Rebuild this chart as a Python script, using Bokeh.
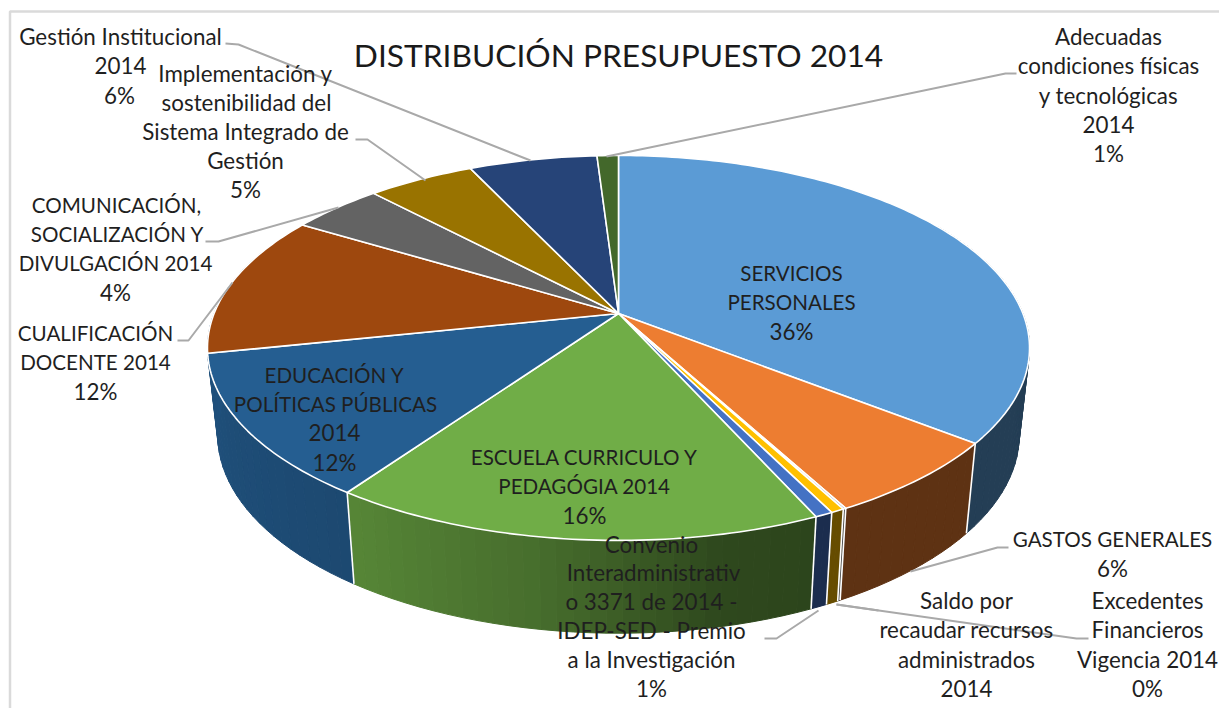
import math
import numpy as np
from bokeh.plotting import figure
from bokeh.models import Range1d
from bokeh.core.properties import value
from bokeh.embed import file_html
from bokeh.resources import INLINE

# ---- data: slices clockwise from 12 o'clock (percent)
categories = ["SERVICIOS PERSONALES", "GASTOS GENERALES", "Saldo por recaudar recursos administrados 2014",
              "Excedentes Financieros Vigencia 2014", "Convenio Interadministrativo 3371 de 2014",
              "ESCUELA CURRICULO Y PEDAGOGIA 2014", "EDUCACION Y POLITICAS PUBLICAS 2014", "CUALIFICACION DOCENTE 2014",
              "COMUNICACION 2014", "Implementacion Sistema Integrado de Gestion", "Gestion Institucional 2014",
              "Adecuadas condiciones 2014"]
values = [35.65, 6.5, 0.1, 0.45, 0.6, 16.4, 12.0, 12.0, 4.3, 5.0, 6.0, 1.0]
colors = ["#5B9BD5", "#ED7D31", "#A5A5A5", "#FFC000", "#4472C4", "#70AD47",
          "#255E91", "#9E480E", "#636363", "#997300", "#264478", "#43682B"]

title = "DISTRIBUCIÓN PRESUPUESTO 2014"
label_lines = [
    ("Gestión Institucional", 120, 36), ("2014", 120, 65), ("6%", 119, 95),
    ("Implementación y", 245, 73), ("sostenibilidad del", 246, 102), ("Sistema Integrado de", 245, 131),
    ("Gestión", 245, 160), ("5%", 245, 189),
    ("COMUNICACIÓN,", 116, 204), ("SOCIALIZACIÓN Y", 117, 233), ("DIVULGACIÓN 2014", 115, 262), ("4%", 115, 292),
    ("CUALIFICACIÓN", 95, 332), ("DOCENTE 2014", 95, 361), ("12%", 95, 391),
    ("EDUCACIÓN Y", 334, 374), ("POLÍTICAS PÚBLICAS", 335, 403), ("2014", 334, 432), ("12%", 334, 462),
    ("ESCUELA CURRICULO Y", 584, 456), ("PEDAGÓGIA 2014", 584, 485), ("16%", 584, 515),
    ("SERVICIOS", 791, 272), ("PERSONALES", 791, 301), ("36%", 791, 331),
    ("Adecuadas", 1108, 36), ("condiciones físicas", 1108, 65), ("y tecnológicas", 1108, 95), ("2014", 1108, 124), ("1%", 1108, 153),
    ("GASTOS GENERALES", 1112, 538), ("6%", 1112, 568),
    ("Saldo por", 966, 600), ("recaudar recursos", 966, 629), ("administrados", 966, 659), ("2014", 966, 688),
    ("Excedentes", 1147, 600), ("Financieros", 1147, 629), ("Vigencia 2014", 1147, 659), ("0%", 1147, 688),
    ("Convenio", 651, 544), ("Interadministrativ", 653, 572), ("o 3371 de 2014 -", 651, 601),
    ("IDEP-SED - Premio", 651, 630), ("a la Investigación", 651, 659), ("1%", 651, 688),
]
leaders = [
    [(225, 43), (238, 44), (530, 160)],
    [(355, 139), (367, 139), (425, 180)],
    [(205, 241), (218, 241), (338, 207)],
    [(177, 340), (188, 340), (232, 282)],
    [(1016, 73), (1005, 73), (606, 156)],
    [(1008, 547), (997, 547), (910, 571)],
    [(1088, 638), (1076, 638), (836, 604)],
    [(836, 604), (878, 610)],
    [(764, 638), (776, 638), (818, 610)],
]

# ---- projection of the tilted disc (screen pixels of the page)
CX, CY = 618.0, 313.0
A, B, K = 186.3, 404.4, 0.179
X_SHRINK, Y_BASE, Y_GROW = 0.975, 399.0, 1.03


def top(theta):
    c, s = np.cos(theta), np.sin(theta)
    w = 1 + K * c
    return CX + B * s / w, CY - A * c / w


def bottom(theta):
    x, y = top(theta)
    return CX + X_SHRINK * (x - CX), Y_BASE + Y_GROW * (y - CY)


def shade(hex_color, f):
    r, g, b = (int(hex_color[i:i + 2], 16) for i in (1, 3, 5))
    return "#%02x%02x%02x" % (int(r * f), int(g * f), int(b * f))


# side brightness against the angle clockwise from the top (degrees)
SHADE_DEG = [0, 156, 168, 180, 190, 215, 270, 360]
SHADE_F = [0.40, 0.40, 0.42, 0.54, 0.64, 0.78, 0.87, 0.87]
LAST_FRONT = 6        # slice whose side wraps round to the left silhouette
WRAP_EXTRA = math.radians(32)

total = sum(values)
edges = 2 * np.pi * np.concatenate([[0], np.cumsum(values)]) / total

p = figure(width=1219, height=708, output_backend="svg", toolbar_location=None,
           x_range=Range1d(0, 1219), y_range=Range1d(708, 0), min_border=0,
           x_axis_type=None, y_axis_type=None, outline_line_color=None,
           background_fill_color="white", border_fill_color="white")
p.grid.visible = False

# sides
sx, sy, sc = [], [], []
for i, (a0, a1, col) in enumerate(zip(edges[:-1], edges[1:], colors)):
    if i > LAST_FRONT:
        continue
    if i == LAST_FRONT:
        a1 = a1 + WRAP_EXTRA
    n = max(2, int(math.ceil(math.degrees(a1 - a0) / 2)))
    th = np.linspace(a0, a1, n + 1)
    for t0, t1 in zip(th[:-1], th[1:]):
        mid = 0.5 * (t0 + t1)
        deg = math.degrees(mid)
        if deg < 60:
            continue
        ux0, uy0 = top(t0); ux1, uy1 = top(t1)
        bx0, by0 = bottom(t0); bx1, by1 = bottom(t1)
        sx.append([ux0, ux1, bx1, bx0])
        sy.append([uy0, uy1, by1, by0])
        sc.append(shade(col, float(np.interp(deg, SHADE_DEG, SHADE_F))))
p.patches(sx, sy, fill_color=sc, line_color=sc, line_width=1)

# white dividers on the sides
for a in edges:
    deg = math.degrees(a)
    if 95 < deg < 250:
        ux, uy = top(a); bx, by = bottom(a)
        p.line([ux, bx], [uy, by], line_color="white", line_width=1.6)

# top faces
tx, ty = [], []
for a0, a1 in zip(edges[:-1], edges[1:]):
    n = max(2, int(math.ceil(math.degrees(a1 - a0))))
    th = np.linspace(a0, a1, n + 1)
    x, y = top(th)
    tx.append([CX] + list(x))
    ty.append([CY] + list(y))
p.patches(tx, ty, fill_color=colors, line_color="white", line_width=1.6, line_join="round")

# frame of the picture
p.line([1219, 9.5, 9.5], [11, 11, 708], line_color="#DADADA", line_width=2.5)

# leader lines
for pts in leaders:
    p.line([q[0] for q in pts], [q[1] for q in pts], line_color="#A9A9A9", line_width=2)

# texts: capitals run narrower than mixed case in the reference
caps = [q for q in label_lines if q[0].upper() == q[0] and not q[0][0].isdigit()]
mixed = [q for q in label_lines if not (q[0].upper() == q[0] and not q[0][0].isdigit())]
for group, size in ((mixed, "22.4px"), (caps, "20.6px")):
    p.text([q[1] for q in group], [q[2] for q in group], text=[q[0] for q in group],
           text_font=value("Lato"), text_font_size=size, text_color="#1f1f1f",
           text_align="center", text_baseline="middle")
p.text([618], [54], text=[title], text_font=value("Lato"), text_font_size="31.7px",
       text_color="#1a1a1a", text_align="center", text_baseline="middle")

open("out.html", "w").write(file_html(p, INLINE))
